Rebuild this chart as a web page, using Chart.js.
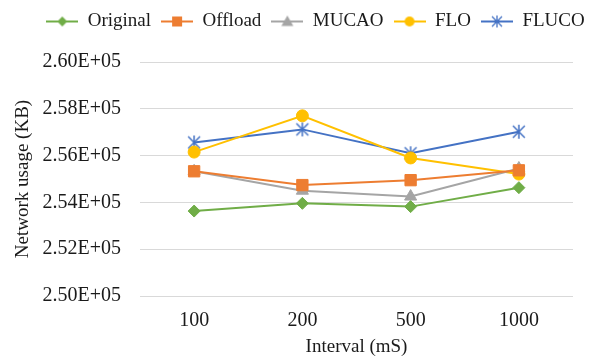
<!DOCTYPE html>
<html>
<head>
<meta charset="utf-8">
<script src="https://cdn.jsdelivr.net/npm/chart.js@4.4.1/dist/chart.umd.min.js"></script>
<style>
html,body{margin:0;padding:0;background:#fff;}
#wrap{width:599px;height:358px;position:relative;}
</style>
</head>
<body>
<div id="wrap"><canvas id="c" width="599" height="358"></canvas></div>
<script>
const categories = ["100", "200", "500", "1000"];
const seriesNames = ["Original", "Offload", "MUCAO", "FLO", "FLUCO"];
const original = [253630, 253960, 253820, 254630];
const offload  = [255330, 254740, 254950, 255370];
const mucao    = [255330, 254500, 254250, 255450];
const flo      = [256150, 257700, 255900, 255210];
const fluco    = [256560, 257120, 256100, 257020];
const yTicks   = [250000, 252000, 254000, 256000, 258000, 260000];

const colors = ["#70AD47", "#ED7D31", "#A5A5A5", "#FFC000", "#4472C4"];
const styles = ["rectRot", "rect", "triangle", "circle", "asterisk6"];
const radii  = [6, 8, 7, 6, 7];
const seriesValues = [original, offload, mucao, flo, fluco];

function starCanvas(color, r) {
  const s = r * 2 + 4;
  const c = document.createElement('canvas');
  c.width = s; c.height = s;
  const g = c.getContext('2d');
  g.strokeStyle = color; g.lineWidth = 1.5;
  const cx = s / 2, cy = s / 2;
  g.beginPath();
  g.moveTo(cx, cy - r); g.lineTo(cx, cy + r);
  const d = r * 0.85;
  g.moveTo(cx - d, cy - d); g.lineTo(cx + d, cy + d);
  g.moveTo(cx - d, cy + d); g.lineTo(cx + d, cy - d);
  g.stroke();
  return c;
}

function legendIcon(i) {
  const w = 32, h = 16;
  const c = document.createElement('canvas');
  c.width = w; c.height = h;
  const g = c.getContext('2d');
  const col = colors[i];
  g.strokeStyle = col; g.lineWidth = 2;
  g.beginPath(); g.moveTo(0, h / 2); g.lineTo(w, h / 2); g.stroke();
  g.fillStyle = col;
  const cx = w / 2, cy = h / 2;
  const st = styles[i];
  g.beginPath();
  if (st === 'rectRot') {
    g.moveTo(cx, cy - 5); g.lineTo(cx + 5, cy); g.lineTo(cx, cy + 5); g.lineTo(cx - 5, cy); g.closePath(); g.fill();
  } else if (st === 'rect') {
    g.rect(cx - 5, cy - 5, 10, 10); g.fill();
  } else if (st === 'triangle') {
    g.moveTo(cx, cy - 6); g.lineTo(cx + 6, cy + 4.5); g.lineTo(cx - 6, cy + 4.5); g.closePath(); g.fill();
  } else if (st === 'circle') {
    g.arc(cx, cy, 5, 0, Math.PI * 2); g.fill();
  } else {
    g.lineWidth = 1.3;
    g.moveTo(cx, cy - 6); g.lineTo(cx, cy + 6);
    g.moveTo(cx - 5, cy - 5); g.lineTo(cx + 5, cy + 5);
    g.moveTo(cx - 5, cy + 5); g.lineTo(cx + 5, cy - 5);
    g.stroke();
  }
  return c;
}

const datasets = seriesNames.map((name, i) => ({
  label: name,
  data: seriesValues[i],
  borderColor: colors[i],
  backgroundColor: colors[i],
  pointBackgroundColor: colors[i],
  pointBorderColor: colors[i],
  borderWidth: 2,
  pointStyle: styles[i] === 'asterisk6' ? starCanvas(colors[i], radii[i]) : styles[i],
  pointRadius: radii[i],
  pointHoverRadius: radii[i],
  pointBorderWidth: 1,
  tension: 0,
  fill: false
}));

const FONT = "'Liberation Serif', 'Times New Roman', serif";
const TXT = "#1a1a1a";

const LEFT_PAD = 6;
const PLOT_LEFT = 140;
const PLOT_TOP = 60;
const PLOT_BOTTOM = 296;

const layoutFix = {
  id: 'layoutFix',
  beforeInit(chart) {
    const lg = chart.legend;
    if (lg) {
      const orig = lg.fit;
      lg.fit = function () { orig.call(this); this.height = PLOT_TOP; };
    }
  },
  afterLayout(chart) {
    chart.legend.left += 26;
    chart.legend.right += 26;
  }
};

new Chart(document.getElementById('c'), {
  type: 'line',
  data: { labels: categories, datasets },
  plugins: [layoutFix],
  options: {
    responsive: false,
    animation: false,
    devicePixelRatio: 1,
    layout: { padding: { top: 2, right: 26, bottom: 0, left: LEFT_PAD } },
    plugins: {
      tooltip: { enabled: false },
      legend: {
        position: 'top',
        align: 'center',
        labels: {
          font: { family: FONT, size: 19 },
          color: TXT,
          usePointStyle: true,
          pointStyleWidth: 32,
          boxHeight: 16,
          padding: 10,
          generateLabels(chart) {
            const items = Chart.defaults.plugins.legend.labels.generateLabels(chart);
            items.forEach((it, i) => { it.pointStyle = legendIcon(i); });
            return items;
          }
        }
      }
    },
    scales: {
      x: {
        offset: true,
        afterFit(scale) { scale.height = 358 - PLOT_BOTTOM; },
        grid: { display: false, drawTicks: false },
        border: { display: false },
        ticks: { font: { family: FONT, size: 20 }, color: TXT, padding: 13 },
        title: { display: true, text: 'Interval (mS)', font: { family: FONT, size: 19 }, color: TXT, padding: { top: 0, bottom: 0 } }
      },
      y: {
        min: 250000,
        max: 260000,
        afterBuildTicks(scale) { scale.ticks = yTicks.map(v => ({ value: v })); },
        afterFit(scale) { scale.width = PLOT_LEFT - LEFT_PAD; },
        grid: { color: '#D9D9D9', lineWidth: 1, drawTicks: false },
        border: { display: false },
        ticks: {
          font: { family: FONT, size: 20 },
          color: TXT,
          padding: 19,
          callback: v => (v / 100000).toFixed(2) + 'E+05'
        },
        title: { display: true, text: 'Network usage (KB)', font: { family: FONT, size: 19 }, color: TXT, padding: { top: 6, bottom: 0 } }
      }
    }
  }
});
</script>
</body>
</html>
